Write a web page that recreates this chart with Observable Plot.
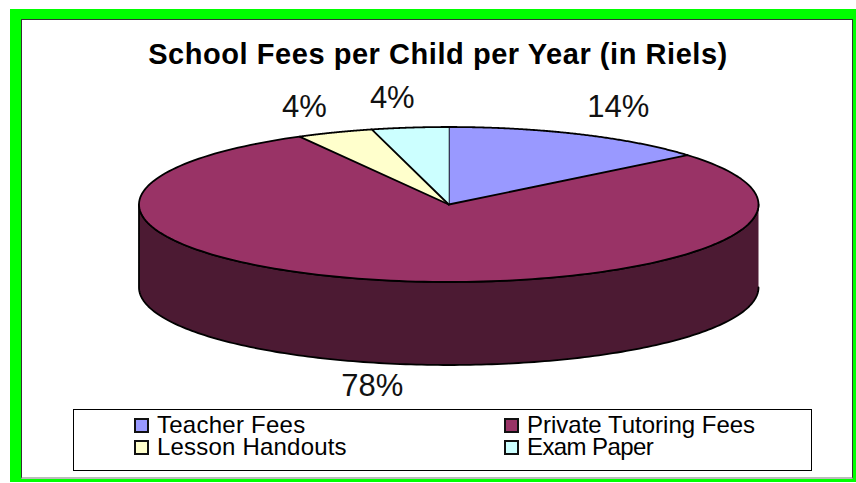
<!DOCTYPE html>
<html><head><meta charset="utf-8">
<script src="https://cdn.jsdelivr.net/npm/d3@7"></script>
<script src="https://cdn.jsdelivr.net/npm/@observablehq/plot@0.6"></script>
<style>
html,body{margin:0;padding:0;background:#fff;}
body{width:856px;height:483px;position:relative;overflow:hidden;font-family:"Liberation Sans",Arial,sans-serif;color:#000;}
#frame{position:absolute;left:10px;top:9px;border:solid #00ff00;border-width:10.5px 3px 3.5px 11px;box-sizing:border-box;width:846px;height:473px;}
#frame:after{content:"";position:absolute;inset:0;border:1px solid #333;border-bottom:2px solid #bbb;border-right-color:#333;}
#title{position:absolute;left:0;width:876px;top:37px;text-align:center;font-weight:bold;font-size:29px;line-height:34px;letter-spacing:0.55px;}
#chart{position:absolute;left:0;top:0;}
#legend{position:absolute;left:73px;top:409px;width:739px;height:62px;box-sizing:border-box;border:1.5px solid #000;background:#fff;}
.item{position:absolute;display:flex;align-items:center;font-size:24px;line-height:22px;height:22px;white-space:nowrap;}
.sw{border:2px solid #111;box-sizing:border-box;margin-right:8.5px;width:15px;height:15px;}
</style></head><body>
<div id="frame"></div>
<div id="title"></div>
<div id="chart"></div>
<div id="legend"></div>
<script>
const titleText = "School Fees per Child per Year (in Riels)";
const categories = ["Teacher Fees", "Private Tutoring Fees", "Lesson Handouts", "Exam Paper"];
const shares = [14, 78, 4, 4];
const sliceColors = ["#9999FF", "#993366", "#FFFFCC", "#CCFFFF"];
const wallName = "wall";
const wallColor = "#4C1A33";
const labelDx = [-2, -1, 4, -6];
const labelDy = [-6, 83, -4, -6];
const legendSpacing = [0.25, 0, 0.2, -0.6];
const depth = 83 / 77.5;          // wall height in radii of the flattened pie
const labelRadius = 1.3;

document.getElementById("title").textContent = titleText;

const arcs = d3.pie().sort(null).value(d => d)(shares);
const steps = 180;
const onRim = (a, drop = 0) => ({x: Math.sin(a), y: Math.cos(a) - drop});
const sweep = (a0, a1, drop = 0) => d3.range(steps + 1).map(i => onRim(a0 + (a1 - a0) * i / steps, drop));

const slicePts = arcs.flatMap((arc, i) =>
  [{x: 0, y: 0}, ...sweep(arc.startAngle, arc.endAngle)].map(p => ({...p, name: categories[i]})));
const wallPts = [...sweep(Math.PI / 2, 3 * Math.PI / 2), ...sweep(3 * Math.PI / 2, Math.PI / 2, depth)]
  .map(p => ({...p, name: wallName}));

const labelMarks = arcs.map((arc, i) => {
  const mid = (arc.startAngle + arc.endAngle) / 2;
  const p = {x: Math.sin(mid) * labelRadius, y: Math.cos(mid) * labelRadius};
  return Plot.text([p], {
    x: "x", y: "y", text: () => shares[i] + "%",
    dx: labelDx[i], dy: labelDy[i],
    fontSize: 31, fontFamily: "Liberation Sans", fill: "#111"
  });
});

const plot = Plot.plot({
  width: 856, height: 483, margin: 0,
  style: {background: "transparent", overflow: "visible"},
  x: {domain: [-1, 1], range: [138.5, 758], axis: null},
  y: {domain: [1, -1], range: [126.5, 281.5], axis: null},
  color: {domain: [...categories, wallName], range: [...sliceColors, wallColor]},
  marks: [
    Plot.line(wallPts, {x: "x", y: "y", z: "name", fill: "name", stroke: "#000", strokeWidth: 1.8}),
    Plot.line(slicePts, {x: "x", y: "y", z: "name", fill: "name", stroke: "#000", strokeWidth: 1.8, strokeLinejoin: "round"}),
    ...labelMarks
  ]
});
document.getElementById("chart").append(plot);

const legend = document.getElementById("legend");
categories.forEach((c, i) => {
  const it = document.createElement("div");
  it.className = "item";
  it.style.left = (i % 2 ? 429.5 : 59.5) + "px";
  it.style.top = (i < 2 ? 4 : 26) + "px";
  const sw = document.createElement("span");
  sw.className = "sw";
  sw.style.background = sliceColors[i];
  const label = document.createElement("span");
  label.textContent = c;
  label.style.letterSpacing = legendSpacing[i] + "px";
  it.append(sw, label);
  legend.append(it);
});
</script>
</body></html>
